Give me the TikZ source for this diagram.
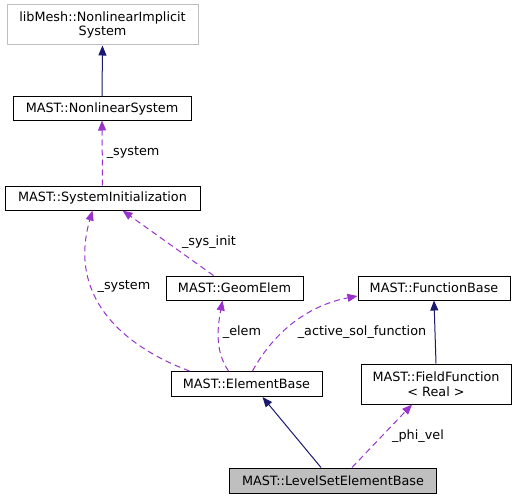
\documentclass[tikz,border=0pt]{standalone}
\usepackage{fontspec}
\setmainfont{DejaVu Sans}
\usetikzlibrary{arrows.meta,positioning}
\definecolor{dgNavy}{HTML}{191970}
\definecolor{dgPurple}{HTML}{9A32CD}
\definecolor{dgGrey}{HTML}{BFBFBF}
\tikzset{
  classbox/.style={rectangle,draw=black,fill=white,line width=1pt,inner sep=0pt,
    align=center,font=\fontsize{12.8}{14.5}\selectfont},
  extbox/.style={classbox,draw=dgGrey},
  focusbox/.style={classbox,fill=dgGrey},
  inherit/.style={-{Stealth[inset=0pt,length=10pt,width=8pt]},draw=dgNavy,line width=1pt},
  usage/.style={-{Stealth[inset=0pt,length=10pt,width=8pt]},draw=dgPurple,line width=1pt,
    dash pattern=on 6pt off 4pt},
  edgelabel/.style={inner sep=0pt,font=\fontsize{12.8}{14.5}\selectfont}
}

\begin{document}
\begin{tikzpicture}[x=1pt,y=-1pt]
  \useasboundingbox (0,0) rectangle (516,500);
  % classes
  \node[extbox, minimum width=191pt, minimum height=40pt] (nlimpl) at (102.5,25) {libMesh::NonlinearImplicit\\System};
  \node[classbox, minimum width=178pt, minimum height=23pt] (nlsys) at (102,108.5) {MAST::NonlinearSystem};
  \node[classbox, minimum width=195pt, minimum height=24pt] (sysinit) at (102.5,198) {MAST::SystemInitialization};
  \node[classbox, minimum width=137pt, minimum height=24pt] (geom) at (234.5,288) {MAST::GeomElem};
  \node[classbox, minimum width=152pt, minimum height=24pt] (fbase) at (434,288) {MAST::FunctionBase};
  \node[classbox, minimum width=151pt, minimum height=25pt] (elbase) at (246.5,384) {MAST::ElementBase};
  \node[classbox, minimum width=150pt, minimum height=40pt] (field) at (436,384) {MAST::FieldFunction\\< Real >};
  \node[focusbox, minimum width=207pt, minimum height=25pt] (lvlset) at (333,480.5) {MAST::LevelSetElementBase};
  % inheritance
  \draw[inherit] (nlsys.north) -- (nlimpl.south);
  \draw[inherit] (field.north) -- (fbase.south);
  \draw[inherit] ([xshift=-12pt]lvlset.north) -- ([xshift=16pt]elbase.south);
  % usage
  \draw[usage] (sysinit.north) -- node[edgelabel, right=4pt] {\_system} (nlsys.south);
  \draw[usage] ([xshift=-21pt]geom.north) -- ([xshift=20pt]sysinit.south);
  \node[edgelabel] (lsysinit) at (209,242) {\_sys\_init};
  \draw[usage] ([xshift=-57pt]elbase.north) .. controls (120,345) and (68,295) .. ([xshift=-10pt]sysinit.south);
  \node[edgelabel] (lsystem) at (124,287) {\_system};
  \draw[usage] ([xshift=-18pt]elbase.north) .. controls (214,350) and (218,325) .. ([xshift=-12pt]geom.south);
  \node[edgelabel] (lelem) at (242,332) {\_elem};
  \draw[usage] ([xshift=6pt]elbase.north) .. controls (275,330) and (310,305) .. ([yshift=-8pt]fbase.west);
  \node[edgelabel] (lactive) at (362,332) {\_active\_sol\_function};
  \draw[usage] ([xshift=19pt]lvlset.north) -- ([xshift=-24pt]field.south);
  \node[edgelabel] (lphi) at (418,436) {\_phi\_vel};
\end{tikzpicture}
\end{document}
